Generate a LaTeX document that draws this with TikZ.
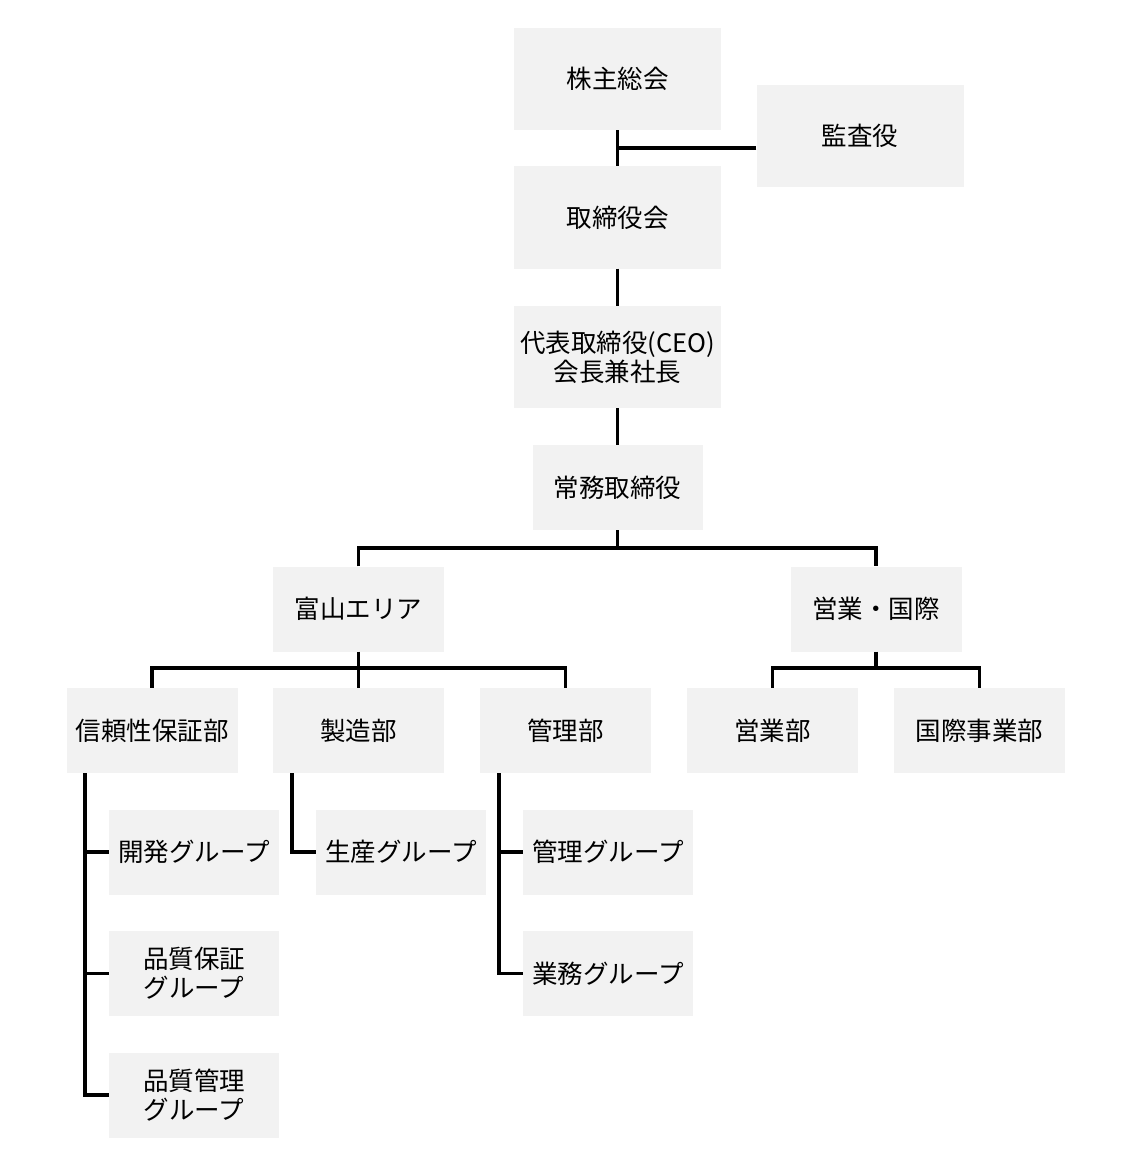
\documentclass[tikz,border=0pt]{standalone}
\usepackage{fontspec}
\setmainfont{Noto Sans CJK JP}
\usepackage{tikz}

\begin{document}
\begin{tikzpicture}[x=1pt,y=1pt,yscale=-1,xscale=1,
  box/.style={fill={rgb, 255:red, 242; green, 242; blue, 242 },draw=none,
    minimum width=171pt,minimum height=85pt,inner sep=0pt,align=center,
    font=\fontsize{25.5}{29}\selectfont},
  bigbox/.style={box,minimum width=207pt,minimum height=102pt},
  link/.style={line width=3.2pt,color=black}]
\useasboundingbox (0,0) rectangle (1137,1161);

%Shape: Rectangle [top]
\node [bigbox] (kabu) at (617.5,79) {株主総会};
\node [bigbox] (kansa) at (860,136) {監査役};
\node [bigbox] (tori) at (617.5,217.5) {取締役会};
\node [bigbox] (ceo) at (617.5,357) {代表取締役(CEO)\\会長兼社長};
\node [box,minimum width=170pt] (jomu) at (617.5,487.5) {常務取締役};
%Shape: Rectangle [areas]
\node [box] (toyama) at (358.5,609) {富山エリア};
\node [box] (eikoku) at (876,609) {営業・国際};
%Shape: Rectangle [departments]
\node [box] (shinrai) at (152,730.5) {信頼性保証部};
\node [box] (seizo) at (358.5,730.5) {製造部};
\node [box] (kanri) at (565.5,730.5) {管理部};
\node [box] (eigyobu) at (772.5,730.5) {営業部};
\node [box] (kokusai) at (979.5,730.5) {国際事業部};
%Shape: Rectangle [groups]
\node [box,minimum width=170pt] (kaihatsu) at (194,852) {開発グループ};
\node [box,minimum width=170pt] (hinsho) at (194,973.5) {品質保証\\グループ};
\node [box,minimum width=170pt] (hinkan) at (194,1095) {品質管理\\グループ};
\node [box,minimum width=170pt] (seisan) at (401,852) {生産グループ};
\node [box,minimum width=170pt] (kanrig) at (608,852) {管理グループ};
\node [box,minimum width=170pt] (gyomu) at (608,973.5) {業務グループ};

%Straight Lines [joints]
\coordinate (j1) at (617.5,148);
\coordinate (b1) at (617.5,548);
\coordinate (b2) at (358.5,668);
\coordinate (b3) at (876,668);
\coordinate (t1) at (85,0);
\coordinate (t2) at (292,0);
\coordinate (t3) at (499,0);

%Straight Lines [top chain]
\draw [link] (kabu.south) -- (tori.north);
\draw [link] (kansa.west |- j1) -- (j1);
\draw [link] (tori.south) -- (ceo.north);
\draw [link] (ceo.south) -- (jomu.north);
\draw [link] (jomu.south) -- (b1);
\draw [link] (toyama.north) |- (b1) -| (eikoku.north);
%Straight Lines [areas to departments]
\draw [link] (toyama.south) -- (b2);
\draw [link] (shinrai.north) |- (b2) -| (kanri.north);
\draw [link] (b2) -- (seizo.north);
\draw [link] (eikoku.south) -- (b3);
\draw [link] (eigyobu.north) |- (b3) -| (kokusai.north);
%Straight Lines [departments to groups]
\draw [link] (shinrai.south -| t1) |- (hinkan.west);
\draw [link] (t1 |- kaihatsu.west) -- (kaihatsu.west);
\draw [link] (t1 |- hinsho.west) -- (hinsho.west);
\draw [link] (seizo.south -| t2) |- (seisan.west);
\draw [link] (kanri.south -| t3) |- (gyomu.west);
\draw [link] (t3 |- kanrig.west) -- (kanrig.west);

\end{tikzpicture}
\end{document}
